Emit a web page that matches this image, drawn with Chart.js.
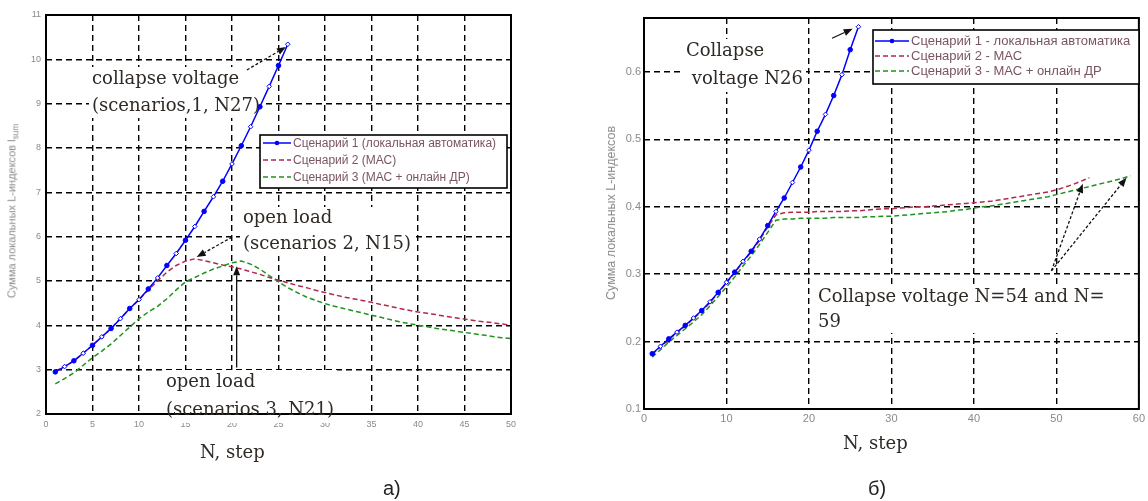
<!DOCTYPE html>
<html><head><meta charset="utf-8">
<script src="https://cdn.jsdelivr.net/npm/chart.js@4.4.1/dist/chart.umd.min.js"></script>
<style>
body{margin:0;background:#fff;width:1148px;height:501px;overflow:hidden;position:relative;font-family:"Liberation Sans",Arial,sans-serif}
canvas{position:absolute;top:0}
#cA{left:0}
#cB{left:574px}
.note{position:absolute;font-family:"DejaVu Serif",serif;font-size:18px;color:#2f2a25;white-space:nowrap}
.ytitle{position:absolute;transform:translate(-50%,-50%) rotate(-90deg);white-space:nowrap;color:#8c8c8c}
.ytitle sub{font-size:75%}
.xtitle{position:absolute;font-family:"DejaVu Serif",serif;font-size:18px;line-height:20px;color:#2f2a25;white-space:nowrap}
.cap{position:absolute;font-size:20px;line-height:24px;color:#222}
</style></head><body>
<canvas id="cA" width="574" height="501"></canvas>
<canvas id="cB" width="574" height="501"></canvas>

<div class="note" data-c="A" style="left:92px;top:64px;line-height:27px">collapse voltage<br>(scenarios,1, N27)</div>
<div class="note" data-c="A" style="left:243px;top:204px;line-height:26px">open load<br>(scenarios 2, N15)</div>
<div class="note" data-c="A" style="left:166px;top:367px;line-height:28px">open load<br>(scenarios 3, N21)</div>
<div class="note" data-c="B" style="left:686px;top:36px;line-height:28px">Collapse<br>&nbsp;voltage N26</div>
<div class="note" data-c="B" style="left:818px;top:283px;line-height:25px">Collapse voltage N=54 and N=<br>59</div>

<div class="ytitle" style="left:13px;top:211px;font-size:11px">Сумма локальных L-индексов l<sub>sum</sub></div>
<div class="ytitle" style="left:611px;top:213px;font-size:12.5px">Сумма локальных L-индексов</div>
<div class="xtitle" style="left:200px;top:442px">N, step</div>
<div class="xtitle" style="left:843px;top:433px">N, step</div>
<div class="cap" style="left:383px;top:476px">а)</div>
<div class="cap" style="left:868px;top:476px">б)</div>

<script>
// ---- data
const leftSteps = Array.from({length: 50}, (_, i) => i + 1);
const leftS1 = [2.95,3.07,3.2,3.37,3.55,3.74,3.93,4.15,4.38,4.58,4.82,5.07,5.35,5.62,5.92,6.23,6.57,6.9,7.25,7.64,8.05,8.48,8.93,9.39,9.86,10.34];
const leftS2 = [2.97,3.07,3.2,3.37,3.55,3.74,3.93,4.15,4.38,4.58,4.8,5.0,5.2,5.35,5.45,5.5,5.46,5.41,5.36,5.32,5.27,5.21,5.15,5.08,5.02,4.96,4.9,4.85,4.79,4.74,4.69,4.64,4.6,4.56,4.52,4.47,4.43,4.38,4.34,4.3,4.27,4.24,4.2,4.17,4.14,4.11,4.08,4.06,4.03,4.0];
const leftS3 = [2.68,2.8,2.93,3.1,3.27,3.42,3.58,3.77,3.96,4.15,4.3,4.43,4.6,4.8,4.98,5.08,5.18,5.27,5.34,5.41,5.45,5.38,5.27,5.12,4.98,4.85,4.74,4.64,4.56,4.49,4.43,4.38,4.33,4.28,4.23,4.18,4.13,4.08,4.04,4.0,3.97,3.93,3.9,3.87,3.84,3.81,3.78,3.75,3.72,3.7];
const leftXTicks = [0,5,10,15,20,25,30,35,40,45,50];
const leftYTicks = [2,3,4,5,6,7,8,9,10,11];
const leftLabels = ['Сценарий 1 (локальная автоматика)', 'Сценарий 2 (МАС)', 'Сценарий 3 (МАС + онлайн ДР)'];

const rightSteps = Array.from({length: 59}, (_, i) => i + 1);
const rightS1 = [0.182,0.193,0.204,0.214,0.224,0.235,0.246,0.259,0.273,0.288,0.303,0.319,0.334,0.352,0.372,0.393,0.413,0.436,0.459,0.484,0.512,0.537,0.565,0.596,0.633,0.667];
const rightS2 = [0.181,0.192,0.203,0.213,0.223,0.234,0.245,0.258,0.272,0.287,0.302,0.318,0.333,0.35,0.37,0.388,0.391,0.392,0.392,0.392,0.393,0.393,0.393,0.393,0.394,0.394,0.395,0.396,0.397,0.397,0.398,0.399,0.4,0.4,0.401,0.402,0.403,0.404,0.405,0.406,0.407,0.408,0.41,0.412,0.414,0.416,0.418,0.42,0.422,0.425,0.429,0.433,0.438,0.443];
const rightS3 = [0.177,0.188,0.199,0.209,0.219,0.229,0.24,0.253,0.267,0.281,0.296,0.312,0.327,0.344,0.362,0.38,0.382,0.382,0.383,0.383,0.383,0.383,0.384,0.384,0.384,0.384,0.385,0.385,0.386,0.386,0.387,0.388,0.389,0.39,0.391,0.392,0.393,0.395,0.396,0.398,0.4,0.401,0.403,0.405,0.407,0.409,0.411,0.413,0.415,0.418,0.421,0.424,0.427,0.43,0.433,0.436,0.439,0.442,0.446];
const rightXTicks = [0,10,20,30,40,50,60];
const rightYTicks = [0.1,0.2,0.3,0.4,0.5,0.6];
const rightLabels = ['Сценарий 1 - локальная автоматика', 'Сценарий 2 - МАС', 'Сценарий 3 - МАС + онлайн ДР'];

const BLUE = '#0000ff', RED = '#b3294b', GREEN = '#1f931f';

const pts = (steps, vals) => vals.map((v, i) => ({x: steps[i], y: v}));

function arrow(ctx, x1, y1, x2, y2, dashed){
  ctx.save();
  ctx.strokeStyle = '#111'; ctx.fillStyle = '#111'; ctx.lineWidth = 1.3;
  ctx.setLineDash(dashed ? [3,2] : []);
  const a = Math.atan2(y2 - y1, x2 - x1), L = 9, W = 3.5;
  const bx = x2 - L*Math.cos(a), by = y2 - L*Math.sin(a);
  ctx.beginPath(); ctx.moveTo(x1, y1); ctx.lineTo(bx, by); ctx.stroke();
  ctx.setLineDash([]);
  ctx.beginPath();
  ctx.moveTo(x2, y2);
  ctx.lineTo(bx - W*Math.sin(a), by + W*Math.cos(a));
  ctx.lineTo(bx + W*Math.sin(a), by - W*Math.cos(a));
  ctx.closePath(); ctx.fill();
  ctx.restore();
}

const decor = {
  id: 'decor',
  beforeDatasetsDraw(chart, args, o){
    // white patches behind the annotation texts (they hide the grid)
    const ctx = chart.ctx, cr = chart.canvas.getBoundingClientRect();
    ctx.save(); ctx.fillStyle = '#fff';
    document.querySelectorAll('.note[data-c="' + o.key + '"]').forEach(el => {
      const r = el.getBoundingClientRect();
      ctx.fillRect(r.left - cr.left - 3, r.top - cr.top + 3, r.width + 6, r.height - 3);
    });
    ctx.restore();
  },
  afterDraw(chart, args, o){
    const {ctx, chartArea: a, scales: {x, y}} = chart;
    ctx.save();
    ctx.strokeStyle = '#000'; ctx.lineWidth = 2;
    ctx.strokeRect(a.left, a.top, a.right - a.left, a.bottom - a.top);
    ctx.restore();

    o.arrows.forEach(r => arrow(ctx, x.getPixelForValue(r.from[0]), y.getPixelForValue(r.from[1]),
      x.getPixelForValue(r.to[0]), y.getPixelForValue(r.to[1]), r.dashed));

    // legend box
    const lg = o.legend;
    ctx.save();
    ctx.fillStyle = '#fff'; ctx.fillRect(lg.x, lg.y, lg.w, lg.h);
    ctx.strokeStyle = '#000'; ctx.lineWidth = 1.6; ctx.strokeRect(lg.x, lg.y, lg.w, lg.h);
    chart.data.datasets.forEach((ds, i) => {
      const ry = lg.y + lg.rows[i], x0 = lg.x + lg.pad;
      ctx.strokeStyle = ds.borderColor; ctx.lineWidth = 1.5;
      ctx.setLineDash(ds.borderDash || []);
      ctx.beginPath(); ctx.moveTo(x0, ry); ctx.lineTo(x0 + lg.sw, ry); ctx.stroke();
      ctx.setLineDash([]);
      if (i === 0){ ctx.fillStyle = ds.borderColor; ctx.beginPath(); ctx.arc(x0 + lg.sw/2, ry, 2.3, 0, 2*Math.PI); ctx.fill(); }
      ctx.fillStyle = '#7a5560'; ctx.font = lg.font; ctx.textBaseline = 'middle';
      ctx.fillText(ds.label, x0 + lg.sw + 2, ry + 0.5);
    });
    ctx.restore();
  }
};

function makeChart(id, cfg){
  const tickFix = arr => s => { s.ticks = arr.map(v => ({value: v})); };
  return new Chart(document.getElementById(id), {
    type: 'line',
    data: { datasets: [
      { label: cfg.labels[0], data: pts(cfg.steps, cfg.s1), borderColor: BLUE, borderWidth: 1.5,
        pointRadius: 2.3, pointBorderWidth: 1, pointBorderColor: BLUE,
        pointStyle: c => c.dataIndex % 2 ? 'rectRot' : 'circle',
        pointBackgroundColor: c => c.dataIndex % 2 ? '#fff' : BLUE },
      { label: cfg.labels[1], data: pts(cfg.steps, cfg.s2), borderColor: RED, borderWidth: 1.5, borderDash: [5,3], pointRadius: 0 },
      { label: cfg.labels[2], data: pts(cfg.steps, cfg.s3), borderColor: GREEN, borderWidth: 1.5, borderDash: [5,3], pointRadius: 0 }
    ]},
    options: {
      responsive: false, animation: false,
      layout: { padding: cfg.pad },
      plugins: { legend: {display: false}, tooltip: {enabled: false}, decor: cfg.decor },
      scales: {
        x: { type: 'linear', min: cfg.xMin, max: cfg.xMax,
          afterBuildTicks: tickFix(cfg.xTicks), afterFit: s => { s.height = cfg.xH; },
          grid: { color: '#000', lineWidth: 1.4, drawTicks: false },
          border: { display: false, dash: [6,4] },
          ticks: { color: '#8a8a8a', font: {size: cfg.tickSize, family: 'Liberation Sans'}, padding: cfg.xPad, maxRotation: 0, callback: v => String(v) } },
        y: { min: cfg.yMin, max: cfg.yMax,
          afterBuildTicks: tickFix(cfg.yTicks), afterFit: s => { s.width = cfg.yW; },
          grid: { color: '#000', lineWidth: 1.4, drawTicks: false },
          border: { display: false, dash: [6,4] },
          ticks: { color: '#8a8a8a', font: {size: cfg.tickSize, family: 'Liberation Sans'}, padding: cfg.yPad, callback: v => String(v) } }
      }
    },
    plugins: [decor]
  });
}

makeChart('cA', {
  steps: leftSteps, s1: leftS1, s2: leftS2, s3: leftS3, labels: leftLabels,
  xMin: 0, xMax: 50, yMin: 2, yMax: 11, xTicks: leftXTicks, yTicks: leftYTicks,
  pad: {top: 15, right: 63, left: 0, bottom: 0}, xH: 87, yW: 46, tickSize: 9, xPad: 5, yPad: 5,
  decor: { key: 'A',
    arrows: [
      {from: [21.6, 9.76], to: [25.8, 10.28], dashed: true},
      {from: [20.0, 5.99], to: [16.2, 5.54], dashed: true},
      {from: [20.5, 3.05], to: [20.5, 5.33], dashed: false}
    ],
    legend: {x: 260, y: 135, w: 247, h: 53, rows: [8, 25, 42], pad: 3, sw: 28, font: '12px "Liberation Sans"'} }
});

makeChart('cB', {
  steps: rightSteps, s1: rightS1, s2: rightS2, s3: rightS3, labels: rightLabels,
  xMin: 0, xMax: 60, yMin: 0.1, yMax: 0.68, xTicks: rightXTicks, yTicks: rightYTicks,
  pad: {top: 18, right: 9, left: 0, bottom: 0}, xH: 92, yW: 70, tickSize: 11, xPad: 3, yPad: 3,
  decor: { key: 'B',
    arrows: [
      {from: [22.8, 0.650], to: [25.3, 0.664], dashed: false},
      {from: [49.4, 0.305], to: [53.2, 0.434], dashed: true},
      {from: [49.4, 0.305], to: [58.5, 0.443], dashed: true}
    ],
    legend: {x: 299, y: 30, w: 266, h: 54, rows: [11, 26, 41], pad: 2, sw: 34, font: '13px "Liberation Sans"'} }
});
</script>
</body></html>
